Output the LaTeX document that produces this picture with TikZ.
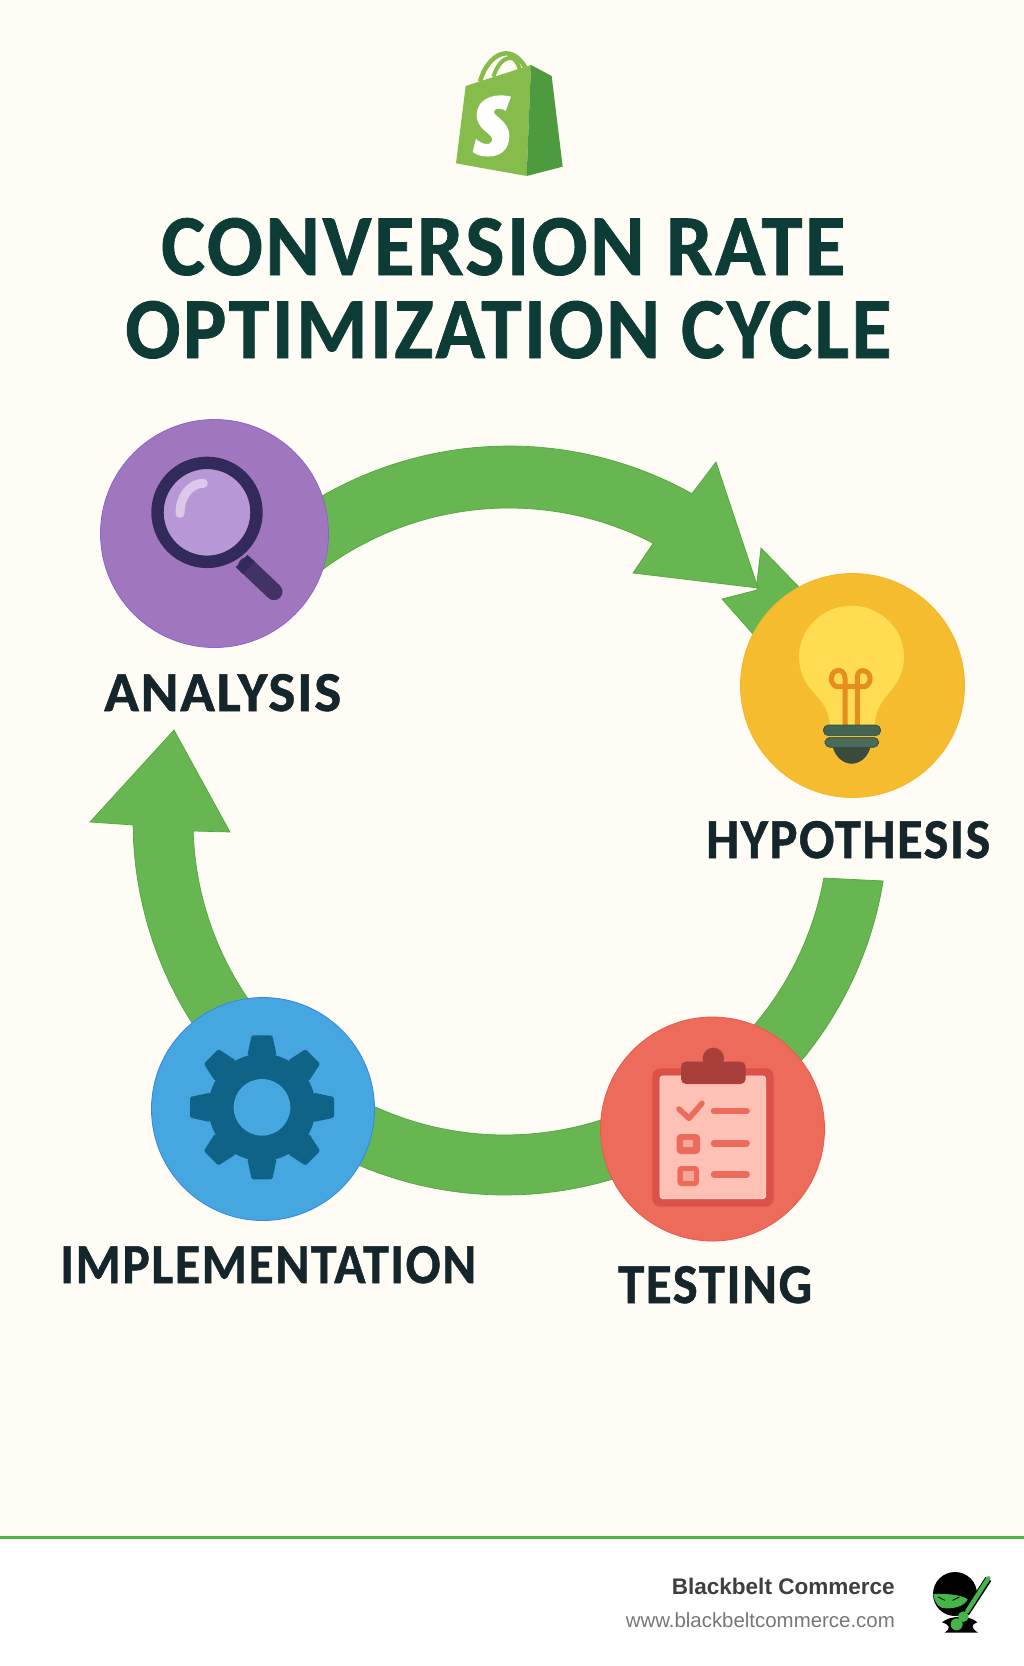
\documentclass[tikz,border=0pt]{standalone}
\usepackage{fontspec}
\usepackage{graphicx}
\setmainfont[LetterSpace=3,BoldFeatures={FakeBold=0.9}]{Carlito}
\newfontfamily\footfont{Liberation Sans}
\definecolor{creambg}{HTML}{FFFCF6}
\definecolor{bandgreen}{HTML}{68B651}
\definecolor{bandedge}{HTML}{4FA83F}
\definecolor{rulegreen}{HTML}{4CB848}
\definecolor{titleink}{HTML}{0D3B36}
\definecolor{labelink}{HTML}{14262B}
\definecolor{purplec}{HTML}{A077BF}
\definecolor{yellowc}{HTML}{F4BC2E}
\definecolor{redc}{HTML}{EC6B5A}
\definecolor{bluec}{HTML}{45A6E0}
\definecolor{geardark}{HTML}{0F6387}
\definecolor{HTMLbag}{HTML}{86BC4C}
\definecolor{HTMLbagdark}{HTML}{4E9A3F}
\definecolor{HTMLhandle}{HTML}{433365}
\definecolor{HTMLring}{HTML}{332A5C}
\definecolor{HTMLlens}{HTML}{B897D6}
\definecolor{HTMLglint}{HTML}{DCC9EA}
\definecolor{HTMLbulb}{HTML}{FFDC52}
\definecolor{HTMLfilament}{HTML}{E38E1E}
\definecolor{HTMLbasea}{HTML}{456553}
\definecolor{HTMLbaseb}{HTML}{4A6B5A}
\definecolor{HTMLbasec}{HTML}{3A4A3C}
\definecolor{HTMLbaseedge}{HTML}{2F4A45}
\definecolor{HTMLclipedge}{HTML}{DC5248}
\definecolor{HTMLpaper}{HTML}{FFC0B5}
\definecolor{HTMLpaperedge}{HTML}{FFE3DC}
\definecolor{HTMLclip}{HTML}{A93F3B}
\definecolor{HTMLpatch}{HTML}{F6A79B}
\definecolor{HTMLfootdark}{HTML}{3F3F3F}
\definecolor{HTMLfootgrey}{HTML}{777777}
\definecolor{HTMLninja}{HTML}{45B549}
\tikzset{
  band/.style={fill=bandgreen,draw=bandedge,line width=0.7pt,line join=miter},
  stage/.style={circle,inner sep=0pt,line width=0.8pt},
  titletext/.style={anchor=base west,inner sep=0pt,text=titleink},
  labeltext/.style={anchor=base west,inner sep=0pt,text=labelink},
  foottext/.style={anchor=base east,inner sep=0pt},
}
\newcommand{\fitbox}[3]{\resizebox{#1pt}{#2pt}{\bfseries #3}}
\begin{document}
\begin{tikzpicture}[x=1pt,y=-1pt]
\useasboundingbox (0,0) rectangle (1024,1666);
\fill[creambg] (0,0) rectangle (1024,1537);
\fill[white] (0,1537) rectangle (1024,1666);
\fill[rulegreen] (0,1536) rectangle (1024,1539);

% Shopify bag
\begin{scope}[shift={(400,30)},scale=1/3]
  \draw[draw=HTMLbag,line width=4.5pt] (240,155) .. controls (255,100) and (290,70) .. (318,70) .. controls (345,70) and (362,90) .. (376,112);
  \draw[draw=HTMLbag,line width=4pt] (280,140) .. controls (292,105) and (310,82) .. (335,84) .. controls (345,87) and (355,100) .. (360,120);
  \fill[HTMLbag] (197,168) -- (393,105) -- (380,438) -- (168,400) -- cycle;
  \fill[HTMLbagdark] (393,105) -- (455,138) -- (488,410) -- (380,438) -- cycle;
  \fill[white] (333,200) .. controls (300,190) and (232,195) .. (230,255)
     .. controls (230,300) and (278,310) .. (277,330)
     .. controls (275,348) and (245,345) .. (228,326)
     -- (218,366)
     .. controls (240,385) and (325,395) .. (328,320)
     .. controls (328,270) and (278,260) .. (282,243)
     .. controls (285,232) and (310,235) .. (317,243) -- cycle;
\end{scope}

% Title
\node[titletext] (title1) at (161,275) {\fitbox{684}{57}{CONVERSION RATE}};
\node[titletext] (title2) at (125,358) {\fitbox{766}{57}{OPTIMIZATION CYCLE}};

% Cycle arrows
\filldraw[band] (761,548) -- (835,624) -- (782,667) -- (722,599) -- (757,590) -- (757,582) -- cycle;
\filldraw[band] plot[variable=\t,domain=-130:-60.8,samples=50] ({509+375*cos(\t)},{821+375*sin(\t)})
  -- (716,462) -- (758,588) -- (633,573) -- (652,545)
  -- plot[variable=\t,domain=-62.6:-130,samples=50] ({509+313*cos(\t)},{821+313*sin(\t)}) -- cycle;
\filldraw[band] plot[variable=\t,domain=9.2:45,samples=30] ({513+375*cos(\t)},{821+375*sin(\t)})
  -- plot[variable=\t,domain=45:10.4,samples=30] ({513+316*cos(\t)},{821+316*sin(\t)}) -- cycle;
\filldraw[band] plot[variable=\t,domain=50:117,samples=40] ({505+374*cos(\t)},{821+374*sin(\t)})
  -- plot[variable=\t,domain=117:50,samples=40] ({505+314*cos(\t)},{821+314*sin(\t)}) -- cycle;
\filldraw[band] plot[variable=\t,domain=142:179.4,samples=30] ({508+375*cos(\t)},{821+375*sin(\t)})
  -- (90,822) -- (174,730) -- (230,832) -- (193,831)
  -- plot[variable=\t,domain=178.2:142,samples=30] ({508+315*cos(\t)},{821+315*sin(\t)}) -- cycle;

% Stage circles
\node[stage,fill=purplec,draw=purplec!85!blue,minimum size=228pt] (analysis) at (214.5,533.5) {};
\node[stage,fill=yellowc,draw=yellowc!90!orange,minimum size=224pt] (hypothesis) at (852.5,685.5) {};
\node[stage,fill=redc,draw=redc!80!red,minimum size=224pt] (testing) at (712.5,1129) {};
\node[stage,fill=bluec,draw=bluec!80!blue,minimum size=223pt] (implementation) at (263,1109) {};

% Magnifier
\begin{scope}[shift={(90,400)},scale=1/3]
  \draw[line width=17pt,line cap=round,draw=HTMLhandle] (470,497) -- (552,575);
  \draw[line width=17pt,draw=HTMLring] (455,483) -- (476,503);
  \draw[draw=HTMLring,fill=HTMLlens,line width=12.4pt] (351,337) circle (148.5);
  \draw[line width=9pt,line cap=round,draw=HTMLglint] (340,250) .. controls (300,250) and (270,290) .. (270,340);
\end{scope}

% Light bulb
\begin{scope}[shift={(620,440)},scale=1/3]
  \fill[HTMLbulb] (630,855) .. controls (625,800) and (600,780) .. (570,745) .. controls (545,715) and (537,680) .. (537,650)
     .. controls (537,565) and (610,497) .. (694,497) .. controls (780,497) and (852,565) .. (852,650)
     .. controls (852,680) and (842,715) .. (818,745) .. controls (790,780) and (768,800) .. (765,855) -- cycle;
  \draw[draw=HTMLfilament,line width=5pt,line join=round] (675,855) -- (675,715) .. controls (675,695) and (660,688) .. (650,692)
     .. controls (628,700) and (628,730) .. (650,740) -- (735,740) .. controls (757,730) and (755,695) .. (730,692)
     .. controls (715,690) and (710,705) .. (712,720) -- (712,855);
  \filldraw[fill=HTMLbasec,draw=HTMLbaseedge,line width=0.6pt] (638,915) .. controls (645,950) and (670,970) .. (695,970) .. controls (720,970) and (745,950) .. (752,915) -- cycle;
  \filldraw[fill=HTMLbaseb,draw=HTMLbaseedge,line width=0.6pt,rounded corners=5pt] (615,892) rectangle (776,922);
  \filldraw[fill=HTMLbasea,draw=HTMLbaseedge,line width=0.6pt,rounded corners=5pt] (610,855) rectangle (782,887);
\end{scope}

% Clipboard
\begin{scope}[shift={(590,1010)},scale=1/3]
  \fill[HTMLclipedge,rounded corners=8pt] (187,175) rectangle (551,590);
  \filldraw[fill=HTMLpaper,draw=HTMLpaperedge,line width=0.8pt,rounded corners=3pt] (210,198) rectangle (527,566);
  \fill[HTMLclip] (370,145) circle (32);
  \fill[HTMLclip,rounded corners=5pt] (273,155) rectangle (467,222);
  \draw[draw=redc,line width=5.5pt,line cap=round,line join=round] (267,297) -- (297,325) -- (336,280);
  \draw[draw=redc,line width=6.5pt,line cap=round] (372,303) -- (470,303);
  \draw[draw=redc,line width=6.5pt,line cap=round] (372,400) -- (470,400);
  \draw[draw=redc,line width=6.5pt,line cap=round] (372,493) -- (470,493);
  \fill[redc,rounded corners=4pt] (260,372) rectangle (330,432);
  \fill[redc,rounded corners=4pt] (262,468) rectangle (327,528);
  \fill[HTMLpatch] (280,390) rectangle (310,412);
  \fill[HTMLpatch] (278,484) rectangle (312,512);
\end{scope}

% Gear
\begin{scope}[shift={(140,990)},scale=1/3]
  \fill[geardark] (366,352) circle (161);
  \foreach \a in {0,45,...,315}{
    \begin{scope}[shift={(366,352)},rotate=\a]
      \fill[geardark,rounded corners=1.5pt] (-44,-155) -- (-31,-216) -- (31,-216) -- (44,-155) -- cycle;
    \end{scope}
  }
  \fill[bluec] (366,352) circle (85);
\end{scope}

% Stage labels
\node[labeltext] (lblanalysis) at (104,711) {\fitbox{237}{37}{ANALYSIS}};
\node[labeltext] (lblhypothesis) at (706,858) {\fitbox{284}{37}{HYPOTHESIS}};
\node[labeltext] (lbltesting) at (618,1303) {\fitbox{194}{37}{TESTING}};
\node[labeltext] (lblimpl) at (60,1283) {\fitbox{416}{37}{IMPLEMENTATION}};

% Footer
\node[foottext,text=HTMLfootdark] (brand) at (895,1594) {\resizebox{223pt}{!}{\footfont\bfseries Blackbelt Commerce}};
\node[foottext,text=HTMLfootgrey] (site) at (895,1627) {\resizebox{269pt}{!}{\footfont www.blackbeltcommerce.com}};

% Ninja mark
\begin{scope}[shift={(920,1565)},scale=1/3]
  \fill[black] (105,87) circle (66);
  \fill[black] (66,172) .. controls (90,150) and (150,150) .. (172,172) .. controls (150,180) and (155,190) .. (174,203) -- (74,203) .. controls (92,190) and (92,180) .. (66,172) -- cycle;
  \fill[HTMLninja] (40,87) .. controls (70,85) and (125,88) .. (143,103) .. controls (135,125) and (90,135) .. (65,128) .. controls (50,122) and (42,105) .. (40,87) -- cycle;
  \draw[black,line width=0.8pt] (55,96) -- (75,106) (118,96) -- (98,106);
  \draw[black,line width=7pt] (138,145) -- (205,42);
  \draw[draw=HTMLninja,line width=4.4pt,line cap=round] (142,138) -- (205,40);
  \fill[HTMLninja] (130,155) circle (16);
  \fill[HTMLninja] (110,178) circle (18);
\end{scope}
\end{tikzpicture}
\end{document}
